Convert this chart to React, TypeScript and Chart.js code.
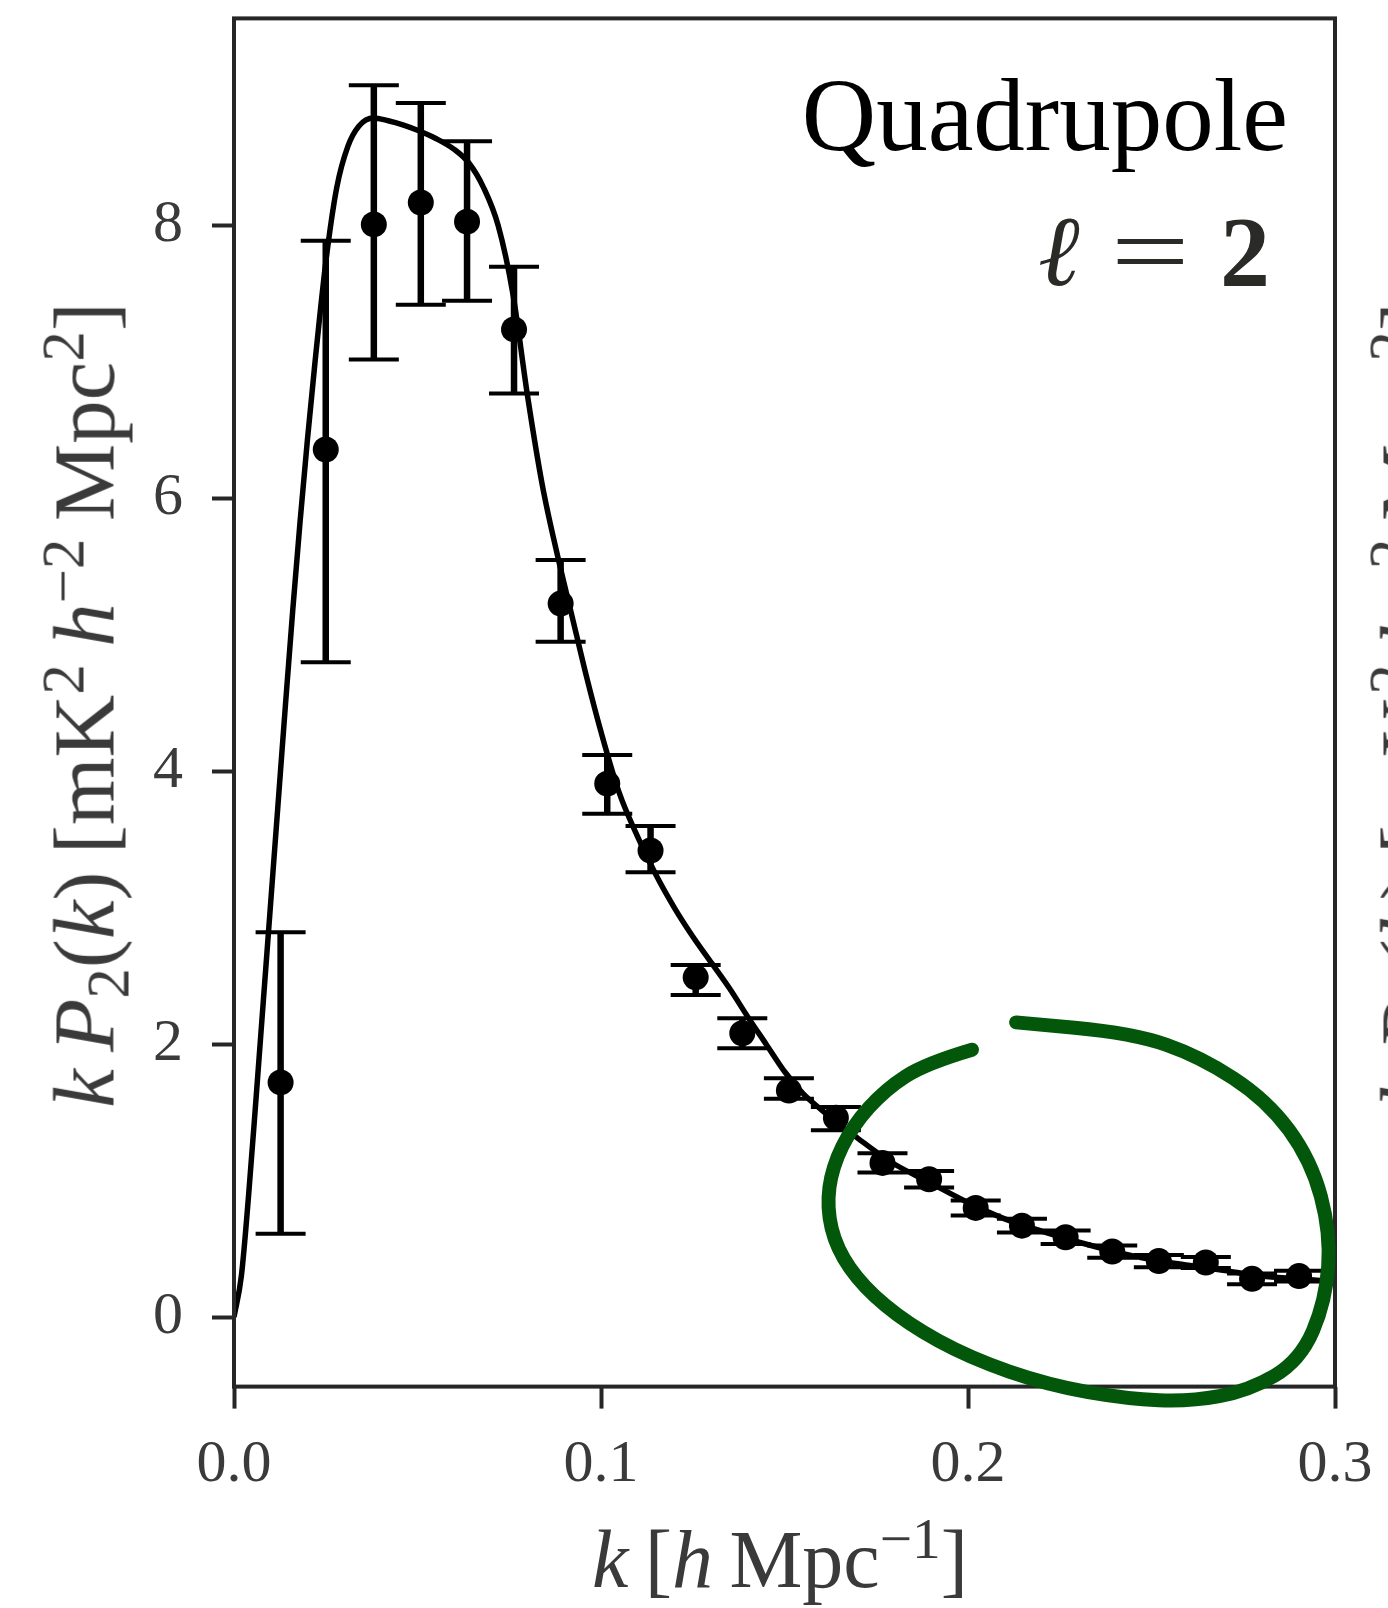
import React, { useEffect, useRef } from "react";
import { Chart, registerables } from "chart.js";

Chart.register(...registerables);

// ---- data ----
const binK = [0.0127, 0.025, 0.0381, 0.0509, 0.0635, 0.0763, 0.089, 0.1017, 0.1135, 0.1258, 0.1385, 0.1512, 0.164, 0.1767, 0.1894, 0.2021, 0.2147, 0.2266, 0.2393, 0.252, 0.2648, 0.2774, 0.2902];
const binP = [1.72, 6.36, 8.01, 8.17, 8.03, 7.24, 5.23, 3.91, 3.42, 2.49, 2.08, 1.66, 1.46, 1.13, 1.01, 0.8, 0.67, 0.585, 0.48, 0.41, 0.4, 0.28, 0.3];
const errLo = [0.61, 4.8, 7.02, 7.42, 7.45, 6.77, 4.95, 3.69, 3.26, 2.36, 1.97, 1.6, 1.37, 1.06, 0.95, 0.745, 0.62, 0.535, 0.435, 0.365, 0.36, 0.24, 0.26];
const errHi = [2.82, 7.89, 9.03, 8.9, 8.62, 7.7, 5.55, 4.12, 3.6, 2.58, 2.19, 1.75, 1.54, 1.2, 1.07, 0.855, 0.72, 0.635, 0.525, 0.455, 0.44, 0.32, 0.34];

const modelK = [0, 0.002, 0.004, 0.006, 0.008, 0.01, 0.012, 0.014, 0.016, 0.018, 0.02, 0.022, 0.025, 0.028, 0.031, 0.034, 0.038, 0.042, 0.046, 0.05, 0.055, 0.06, 0.064, 0.068, 0.072, 0.076, 0.08, 0.084, 0.088, 0.092, 0.096, 0.1, 0.105, 0.11, 0.115, 0.12, 0.125, 0.13, 0.135, 0.14, 0.145, 0.15, 0.155, 0.16, 0.165, 0.17, 0.175, 0.18, 0.19, 0.2, 0.21, 0.22, 0.23, 0.24, 0.25, 0.26, 0.27, 0.28, 0.29, 0.3];
const modelP = [0, 0.3, 0.9, 1.6, 2.32, 3.04, 3.76, 4.48, 5.18, 5.83, 6.43, 6.98, 7.73, 8.28, 8.58, 8.73, 8.79, 8.77, 8.74, 8.7, 8.64, 8.56, 8.46, 8.28, 8.0, 7.5, 6.75, 6.1, 5.6, 5.15, 4.7, 4.29, 3.84, 3.52, 3.24, 3.0, 2.79, 2.6, 2.41, 2.2, 2.0, 1.8, 1.64, 1.52, 1.41, 1.31, 1.21, 1.12, 0.98, 0.84, 0.72, 0.63, 0.55, 0.48, 0.42, 0.38, 0.34, 0.3, 0.28, 0.26];

const xTicks = [0, 0.1, 0.2, 0.3];
const xTickLabels = ["0.0", "0.1", "0.2", "0.3"];
const yTicks = [0, 2, 4, 6, 8];
const yTickLabels = ["0", "2", "4", "6", "8"];

// hand-drawn green highlight, in data coordinates
const annotK = [0.2011, 0.1885, 0.1775, 0.1685, 0.163, 0.1615, 0.1642, 0.1715, 0.1835, 0.2005, 0.222, 0.2435, 0.2605, 0.2765, 0.2905, 0.2975, 0.2988, 0.2935, 0.2815, 0.2632, 0.245, 0.2131];
const annotP = [1.96, 1.86, 1.67, 1.4, 1.1, 0.8, 0.5, 0.22, -0.05, -0.3, -0.5, -0.6, -0.62, -0.54, -0.32, 0.12, 0.62, 1.15, 1.59, 1.91, 2.08, 2.16];

const SERIF = "'Liberation Serif', 'DejaVu Serif', serif";
const AXIS_TEXT = "#3a3a3a";
const INK = "#000000";
const SPINE = "#262626";

const errorBarPlugin = {
  id: "errorBars",
  afterDatasetsDraw(chart: any) {
    const { ctx, scales } = chart;
    const x = scales.x;
    const y = scales.y;
    ctx.save();
    ctx.strokeStyle = INK;
    ctx.lineCap = "butt";
    binK.forEach((k, i) => {
      const px = x.getPixelForValue(k);
      const lo = y.getPixelForValue(errLo[i]);
      const hi = y.getPixelForValue(errHi[i]);
      ctx.lineWidth = 6.5;
      ctx.beginPath();
      ctx.moveTo(px, lo);
      ctx.lineTo(px, hi);
      ctx.stroke();
      ctx.lineWidth = 4;
      ctx.beginPath();
      ctx.moveTo(px - 25, lo);
      ctx.lineTo(px + 25, lo);
      ctx.moveTo(px - 25, hi);
      ctx.lineTo(px + 25, hi);
      ctx.stroke();
    });
    ctx.restore();
  },
};

const framePlugin = {
  id: "frameAndMark",
  afterDraw(chart: any) {
    const { ctx, chartArea, scales } = chart;
    ctx.save();
    ctx.strokeStyle = SPINE;
    ctx.lineWidth = 4;
    ctx.strokeRect(chartArea.left, chartArea.top, chartArea.right - chartArea.left, chartArea.bottom - chartArea.top);
    // green hand-drawn highlight
    const pts = annotK.map((k, i) => [scales.x.getPixelForValue(k), scales.y.getPixelForValue(annotP[i])]);
    ctx.strokeStyle = "#03570a";
    ctx.lineWidth = 14;
    ctx.lineCap = "round";
    ctx.lineJoin = "round";
    ctx.beginPath();
    ctx.moveTo(pts[0][0], pts[0][1]);
    for (let i = 1; i < pts.length - 1; i++) {
      const mx = (pts[i][0] + pts[i + 1][0]) / 2;
      const my = (pts[i][1] + pts[i + 1][1]) / 2;
      ctx.quadraticCurveTo(pts[i][0], pts[i][1], mx, my);
    }
    const last = pts[pts.length - 1];
    ctx.lineTo(last[0], last[1]);
    ctx.stroke();
    ctx.restore();
  },
};

const Sup = ({ children }: any) => (
  <span style={{ fontSize: "0.7em", position: "relative", top: "-0.5em" }}>{children}</span>
);
const Sub = ({ children }: any) => (
  <span style={{ fontSize: "0.7em", position: "relative", top: "0.25em" }}>{children}</span>
);

const YLabel = ({ cx, sub }: any) => (
  <div
    style={{
      position: "absolute",
      left: cx,
      top: 705,
      transform: "translate(-50%, -50%) rotate(-90deg)",
      whiteSpace: "nowrap",
      lineHeight: 1,
      fontFamily: SERIF,
      fontSize: 87,
      color: AXIS_TEXT,
    }}
  >
    <i>k</i>&thinsp;<i>P</i>
    <Sub>{sub}</Sub>(<i>k</i>)&thinsp;[mK<Sup>2</Sup>&thinsp;<i>h</i>
    <Sup>−2</Sup>&thinsp;Mpc<Sup>2</Sup>]
  </div>
);

export default function App() {
  const canvasRef = useRef<HTMLCanvasElement | null>(null);

  useEffect(() => {
    const canvas = canvasRef.current;
    if (!canvas) return;
    const chart = new Chart(canvas, {
      type: "scatter",
      data: {
        datasets: [
          {
            label: "model",
            data: modelK.map((k, i) => ({ x: k, y: modelP[i] })),
            showLine: true,
            borderColor: INK,
            borderWidth: 5.5,
            pointRadius: 0,
            cubicInterpolationMode: "monotone",
            fill: false,
            order: 2,
          },
          {
            label: "measured",
            data: binK.map((k, i) => ({ x: k, y: binP[i] })),
            showLine: false,
            backgroundColor: INK,
            borderColor: INK,
            borderWidth: 0,
            pointRadius: 13,
            pointStyle: "circle",
            order: 1,
          },
        ],
      },
      options: {
        responsive: false,
        animation: false,
        devicePixelRatio: 1,
        events: [],
        layout: { padding: { left: 0, top: 18.4, right: 53, bottom: 0 } },
        plugins: { legend: { display: false }, tooltip: { enabled: false }, title: { display: false } },
        scales: {
          x: {
            type: "linear",
            min: 0,
            max: 0.3,
            afterBuildTicks: (s: any) => {
              s.ticks = xTicks.map((v) => ({ value: v }));
            },
            afterFit: (s: any) => {
              s.height = 1608 - 1386.6;
              s.paddingLeft = 0;
              s.paddingRight = 0;
            },
            ticks: {
              autoSkip: false,
              maxRotation: 0,
              padding: 21,
              color: AXIS_TEXT,
              font: { family: SERIF, size: 60 },
              callback: (_v: any, i: number) => xTickLabels[i],
            },
            grid: { display: true, drawOnChartArea: false, drawTicks: true, tickLength: 22, tickWidth: 4, tickColor: SPINE },
            border: { display: false },
          },
          y: {
            type: "linear",
            min: -0.51,
            max: 9.52,
            afterBuildTicks: (s: any) => {
              s.ticks = yTicks.map((v) => ({ value: v }));
            },
            afterFit: (s: any) => {
              s.width = 234;
              s.paddingTop = 0;
              s.paddingBottom = 0;
            },
            ticks: {
              autoSkip: false,
              padding: 29,
              color: AXIS_TEXT,
              font: { family: SERIF, size: 60 },
              callback: (_v: any, i: number) => yTickLabels[i],
            },
            grid: { display: true, drawOnChartArea: false, drawTicks: true, tickLength: 22, tickWidth: 4, tickColor: SPINE },
            border: { display: false },
          },
        },
      },
      plugins: [errorBarPlugin, framePlugin],
    } as any);
    return () => chart.destroy();
  }, []);

  return (
    <div
      style={{
        position: "fixed",
        left: 0,
        top: 0,
        width: 1388,
        height: 1608,
        overflow: "hidden",
        background: "#ffffff",
      }}
    >
      <canvas ref={canvasRef} width={1388} height={1608} style={{ display: "block", width: 1388, height: 1608 }} />
      <YLabel cx={84} sub="2" />
      <YLabel cx={1411} sub="4" />
      <div
        style={{
          position: "absolute",
          left: 780,
          top: 1519,
          transform: "translateX(-50%)",
          whiteSpace: "nowrap",
          lineHeight: 1,
          fontFamily: SERIF,
          fontSize: 82,
          color: AXIS_TEXT,
        }}
      >
        <i>k</i>&thinsp;[<i>h</i>&thinsp;Mpc<Sup>−1</Sup>]
      </div>
      <div
        style={{
          position: "absolute",
          right: 100,
          top: 64,
          whiteSpace: "nowrap",
          lineHeight: 1,
          fontFamily: SERIF,
          fontSize: 103,
          color: "#000",
        }}
      >
        Quadrupole
      </div>
      <div
        style={{
          position: "absolute",
          right: 118,
          top: 202,
          whiteSpace: "nowrap",
          lineHeight: 1,
          fontFamily: SERIF,
          fontSize: 100,
          color: "#2a2a26",
        }}
      >
        <i>ℓ</i>
        <span style={{ display: "inline-block", transform: "scaleX(1.4)", margin: "0 0.42em" }}>=</span>
        <b>2</b>
      </div>
    </div>
  );
}
